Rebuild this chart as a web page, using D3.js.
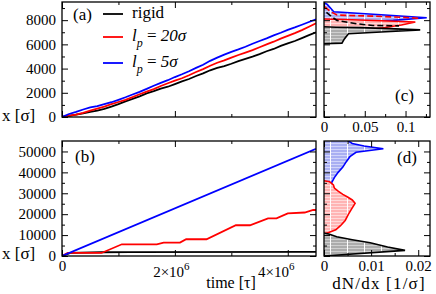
<!DOCTYPE html>
<html>
<head>
<meta charset="utf-8">
<script src="https://cdnjs.cloudflare.com/ajax/libs/d3/7.8.5/d3.min.js"></script>
<style>
  body { margin: 0; background: #fff; }
</style>
</head>
<body>
<script>
// ---- data ----
// (a) positions vs time, time in units of 1e6 tau
const timeA = [0,0.125,0.25,0.375,0.5,0.625,0.75,0.875,1,1.125,1.25,1.375,1.5,1.625,1.75,1.875,2,2.125,2.25,2.375,2.5,2.625,2.75,2.875,3,3.125,3.25,3.375,3.5,3.625,3.75,3.875,4,4.125,4.25,4.375,4.5];
const rigidA = [0,90,200,300,420,530,680,860,1060,1290,1500,1700,1950,2130,2340,2500,2720,2950,3140,3390,3600,3860,4050,4200,4400,4620,4800,4990,5200,5430,5620,5870,6080,6280,6520,6760,7000];
const lp20A = [0,110,200,350,520,690,860,1060,1240,1420,1640,1880,2100,2300,2560,2790,3000,3200,3450,3720,3960,4230,4480,4680,4900,5120,5320,5530,5760,6000,6220,6480,6700,6930,7180,7460,7740];
const lp5A = [0,250,420,620,800,900,1060,1220,1420,1630,1860,2080,2320,2580,2820,3040,3300,3530,3780,4060,4320,4640,4900,5150,5380,5580,5800,6050,6280,6500,6740,6960,7200,7400,7620,7850,8070];

// (b)
const rigidBt = [0,0.15,0.7,1.2,4.5];
const rigidBx = [0,1500,1800,1900,2000];
const lp20Bt = [0,0.1,0.7,1.06,1.68,1.8,2.09,2.2,2.56,3.08,3.33,3.65,3.8,4.0,4.3,4.45,4.5];
const lp20Bx = [0,1450,1450,5600,5600,6400,6400,8000,8000,14700,14700,18000,18000,20400,20800,22000,22000];
const lp5Bt = [0,4.5];
const lp5Bx = [0,51300];

// (c) distributions: [dN/dx, x]
const rigidC = [[0,6050],[0.022,6100],[0.025,6450],[0.03,6880],[0.07,7020],[0.118,7200],[0.08,7300],[0.045,7380],[0.015,7420],[0,7450]];
const lp20C = [[0,6750],[0.006,6850],[0.018,6950],[0.045,7150],[0.075,7400],[0.095,7600],[0.112,7850],[0.07,7950],[0.025,8050],[0,8100]];
const lp5C = [[0,9450],[0.004,9300],[0.012,8700],[0.07,8450],[0.126,8200],[0.085,7980],[0.02,7800],[0.006,7650],[0.03,7580],[0.077,7530],[0.03,7460],[0.01,7250],[0.004,6950],[0,6900]];
const lp20Cdash = [[0.001,9100],[0.008,8700],[0.016,8420],[0.06,8330],[0.1,8220],[0.118,8150]];
const rigidCdash = [[0.003,8650],[0.01,8250],[0.016,7980],[0.04,7700],[0.06,7560],[0.092,7530]];

// (d)
const rigidD = [[0,0],[0.0172,2700],[0.0135,4300],[0.0098,6300],[0.006,7800],[0.0027,9200],[0.001,10500],[0,11000]];
const lp20D = [[0,10500],[0.001,11200],[0.0025,12500],[0.0035,14500],[0.0045,17000],[0.0052,20000],[0.006,23000],[0.0066,25200],[0.006,26800],[0.005,28200],[0.004,29500],[0.003,31000],[0.0022,32500],[0.002,34000],[0.0012,35500],[0,36000]];
const lp5D = [[0,56000],[0.0045,56000],[0.006,53800],[0.0085,52600],[0.0126,51300],[0.0068,49600],[0.0055,47500],[0.0047,45000],[0.004,42500],[0.003,40000],[0.0022,37500],[0.0016,35000],[0.0018,33000],[0.0013,31000],[0.0009,29000],[0.0005,27000],[0.0009,25000],[0.0003,23000],[0.0007,21000],[0.0002,19000],[0.0006,17000],[0,15500]];

const legendLabels = ["rigid", "20σ", "5σ"];
const colors = ["#000000", "#ff0000", "#0000ff"];

// ---- layout ----
const SERIF = "'Liberation Serif', 'Times New Roman', Times, serif";
const L = 62, R = 316, L2 = 324, R2 = 430;
const Ta = 2, Ba = 117, Tb = 141, Bb = 256;

const svg = d3.select("body").append("svg").attr("width", 436).attr("height", 294)
  .style("font-family", SERIF);
svg.append("rect").attr("width", 436).attr("height", 294).attr("fill", "#fff");

const xT = d3.scaleLinear().domain([0, 4.5]).range([L, R]);
const yA = d3.scaleLinear().domain([0, 9500]).range([Ba, Ta]);
const yB = d3.scaleLinear().domain([0, 55000]).range([Bb, Tb]);
const xC = d3.scaleLinear().domain([0, 0.13]).range([L2, R2]);
const xD = d3.scaleLinear().domain([0, 0.0225]).range([L2, R2]);

const defs = svg.append("defs");
function hatch(id, base, stripe) {
  const p = defs.append("pattern").attr("id", id)
    .attr("patternUnits", "userSpaceOnUse").attr("width", 17).attr("height", 3);
  p.append("rect").attr("width", 17).attr("height", 3).attr("fill", base);
  p.append("rect").attr("y", 2).attr("width", 17).attr("height", 1).attr("fill", stripe);
  p.append("rect").attr("x", 7).attr("width", 1).attr("height", 3).attr("fill", "#fff");
}
hatch("hg", "#acacac", "#d0d0d0");
hatch("hr", "#ffb4b4", "#ffdada");
hatch("hb", "#a9aff2", "#d2d5fa");

function clip(id, x0, y0, x1, y1) {
  defs.append("clipPath").attr("id", id).append("rect")
    .attr("x", x0).attr("y", y0).attr("width", x1 - x0).attr("height", y1 - y0);
}
clip("ca", L, Ta, R, Ba); clip("cb", L, Tb, R, Bb);
clip("cc", L2, Ta, R2, Ba); clip("cd", L2, Tb, R2, Bb);

function ax(fn, scale, vals, size, tr, fmt, pad) {
  const g = svg.append("g").attr("transform", tr)
    .call(fn(scale).tickValues(vals).tickSize(-size).tickSizeOuter(0)
      .tickFormat(fmt || (() => "")).tickPadding(pad || 3));
  g.select(".domain").remove();
  g.attr("font-family", null).style("font-family", SERIF).attr("font-size", 15);
  g.selectAll("text").attr("fill", "#000");
  return g;
}

function frame(x, y, xMaj, xMin, yMaj, yMin, xFmt, yFmt) {
  const [x0, x1] = x.range(), [y0, y1] = y.range();
  const bx = ax(d3.axisBottom, x, xMaj, 6, `translate(0,${y0})`, xFmt, 4);
  ax(d3.axisBottom, x, xMin, 3, `translate(0,${y0})`);
  ax(d3.axisTop, x, xMaj, 6, `translate(0,${y1})`);
  ax(d3.axisTop, x, xMin, 3, `translate(0,${y1})`);
  ax(d3.axisLeft, y, yMaj, 6, `translate(${x0},0)`, yFmt, 6);
  ax(d3.axisLeft, y, yMin, 3, `translate(${x0},0)`);
  ax(d3.axisRight, y, yMaj, 6, `translate(${x1},0)`);
  ax(d3.axisRight, y, yMin, 3, `translate(${x1},0)`);
  svg.append("rect").attr("x", x0).attr("y", y1).attr("width", x1 - x0).attr("height", y0 - y1)
    .attr("fill", "none").attr("stroke", "#000").attr("stroke-width", 1.3);
  return bx;
}

// ---- (a) ----
const ga = svg.append("g").attr("clip-path", "url(#ca)");
[rigidA, lp20A, lp5A].forEach((s, k) => {
  ga.append("path").datum(s)
    .attr("d", d3.line().x((d, i) => xT(timeA[i])).y(d => yA(d)))
    .attr("fill", "none").attr("stroke", colors[k]).attr("stroke-width", 1.8);
});
frame(xT, yA, [0, 2, 4], [1, 3], [0, 2000, 4000, 6000, 8000], [1000, 3000, 5000, 7000, 9000], null, d => d);

// ---- (b) ----
const gb = svg.append("g").attr("clip-path", "url(#cb)");
[[rigidBt, rigidBx], [lp20Bt, lp20Bx], [lp5Bt, lp5Bx]].forEach(([t, v], k) => {
  gb.append("path").datum(v)
    .attr("d", d3.line().x((d, i) => xT(t[i])).y(d => yB(d)))
    .attr("fill", "none").attr("stroke", colors[k]).attr("stroke-width", 1.8);
});
const tb = frame(xT, yB, [0, 2, 4], [1, 3], [0, 10000, 20000, 30000, 40000, 50000],
  [5000, 15000, 25000, 35000, 45000], d => d, d => d);
tb.selectAll(".tick text").each(function (d) {
  if (d === 0) return;
  const t = d3.select(this).text(null).attr("dy", null).attr("dx", d === 4 ? -12 : -4);
  t.append("tspan").attr("dy", 17).text(d + "×10");
  t.append("tspan").attr("dy", -7).attr("font-size", 11).text("6");
});

// ---- distributions ----
function dist(g, x, y, data, fill, color, dash) {
  if (fill) {
    g.append("path").datum(data)
      .attr("d", d3.area().y(d => y(d[1])).x0(x(0)).x1(d => x(d[0])))
      .attr("fill", `url(#${fill})`);
  }
  g.append("path").datum(data)
    .attr("d", d3.line().x(d => x(d[0])).y(d => y(d[1])))
    .attr("fill", "none").attr("stroke", color).attr("stroke-width", 1.6)
    .attr("stroke-dasharray", dash || null);
}

// ---- (c) ----
const gc = svg.append("g").attr("clip-path", "url(#cc)");
dist(gc, xC, yA, lp5C, "hb", colors[2]);
dist(gc, xC, yA, lp20C, "hr", colors[1]);
dist(gc, xC, yA, rigidC, "hg", colors[0]);
dist(gc, xC, yA, lp20Cdash, null, colors[1], "6,3");
dist(gc, xC, yA, rigidCdash, null, colors[0], "6,3");
frame(xC, yA, [0, 0.05, 0.1], [0.025, 0.075, 0.125],
  [0, 2000, 4000, 6000, 8000], [1000, 3000, 5000, 7000, 9000], d => d, null);

// ---- (d) ----
const gd = svg.append("g").attr("clip-path", "url(#cd)");
dist(gd, xD, yB, lp5D, "hb", colors[2]);
dist(gd, xD, yB, lp20D, "hr", colors[1]);
dist(gd, xD, yB, rigidD, "hg", colors[0]);
frame(xD, yB, [0, 0.01, 0.02], [0.005, 0.015],
  [0, 10000, 20000, 30000, 40000, 50000], [5000, 15000, 25000, 35000, 45000], d => d, null);

// ---- labels ----
function label(x, y, txt, size, anchor) {
  return svg.append("text").attr("x", x).attr("y", y).attr("font-size", size)
    .style("font-family", SERIF).attr("text-anchor", anchor || "start").text(txt);
}
label(2, 121, "x [σ]", 17);
label(2, 259, "x [σ]", 17);
label(73, 20, "(a)", 17);
label(75, 162, "(b)", 17);
label(395, 101, "(c)", 17);
label(397, 163, "(d)", 17);
label(231, 288, "time [τ]", 16, "middle");
label(379, 289, "dN/dx [1/σ]", 17, "middle").attr("letter-spacing", 1.2);

// legend
const legY = [14, 37, 63];
legendLabels.forEach((s, k) => {
  svg.append("line").attr("x1", 103).attr("x2", 123).attr("y1", legY[k]).attr("y2", legY[k])
    .attr("stroke", colors[k]).attr("stroke-width", 1.8);
  const t = svg.append("text").attr("x", 132).attr("y", legY[k] + 4).attr("font-size", 17)
    .style("font-family", SERIF);
  if (k === 0) { t.text(s); return; }
  t.append("tspan").attr("font-style", "italic").text("l");
  t.append("tspan").attr("font-style", "italic").attr("font-size", 12).attr("dy", 6).text("p");
  t.append("tspan").attr("dy", -6).text(" = ");
  t.append("tspan").attr("font-style", "italic").text(s);
});
</script>
</body>
</html>
